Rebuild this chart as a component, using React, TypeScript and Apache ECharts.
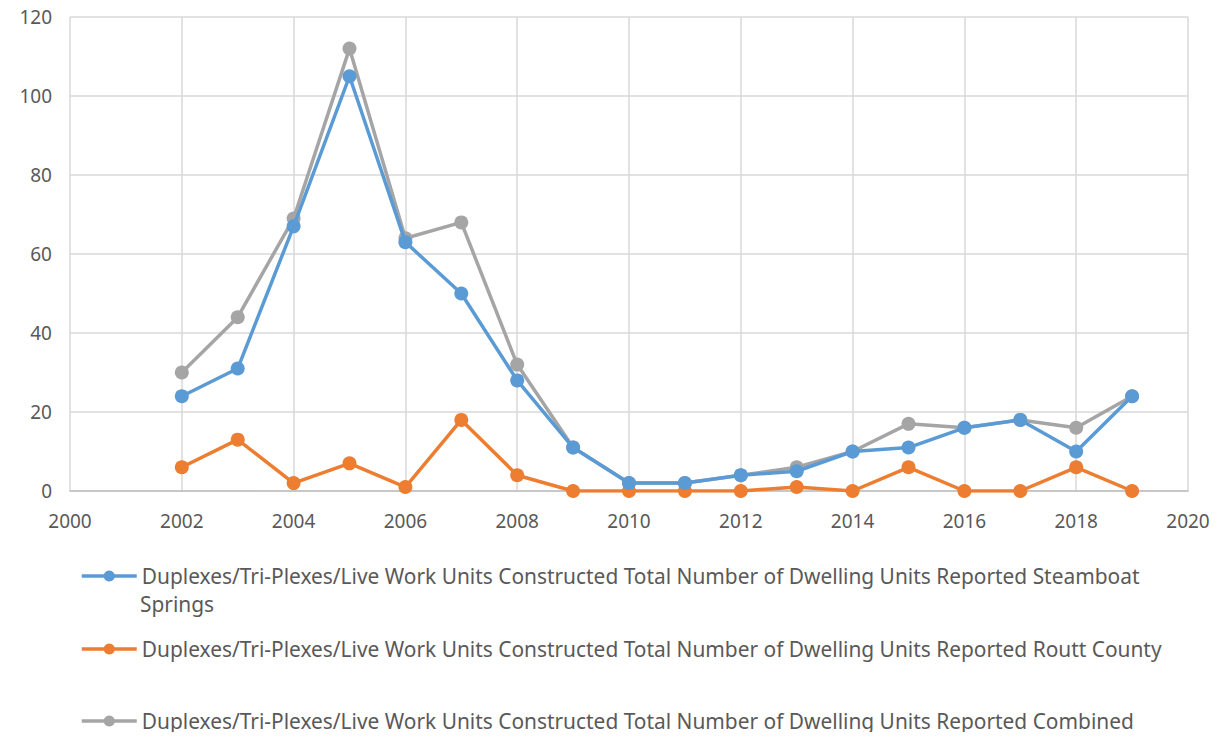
import React, { useEffect, useRef } from "react";
import * as echarts from "echarts";

const years = [2002, 2003, 2004, 2005, 2006, 2007, 2008, 2009, 2010, 2011, 2012, 2013, 2014, 2015, 2016, 2017, 2018, 2019];
const steamboat = [24, 31, 67, 105, 63, 50, 28, 11, 2, 2, 4, 5, 10, 11, 16, 18, 10, 24];
const routt = [6, 13, 2, 7, 1, 18, 4, 0, 0, 0, 0, 1, 0, 6, 0, 0, 6, 0];
const combined = [30, 44, 69, 112, 64, 68, 32, 11, 2, 2, 4, 6, 10, 17, 16, 18, 16, 24];

const names = [
  "Duplexes/Tri-Plexes/Live Work Units Constructed Total Number of Dwelling Units Reported Steamboat Springs",
  "Duplexes/Tri-Plexes/Live Work Units Constructed Total Number of Dwelling Units Reported Routt County",
  "Duplexes/Tri-Plexes/Live Work Units Constructed Total Number of Dwelling Units Reported Combined",
];
const colors = ["#5b9bd5", "#ed7d31", "#a5a5a5"];
const seriesData = [steamboat, routt, combined];

const FONT = "Noto Sans";
const LEGEND_FS = 20.9;

export default function App() {
  const ref = useRef<HTMLDivElement>(null);
  useEffect(() => {
    const chart = echarts.init(ref.current!, null, { renderer: "svg" });
    const legendTops = [565, 638, 710];
    chart.setOption({
      animation: false,
      grid: { left: 70, right: 33, top: 17, bottom: 249, containLabel: false },
      xAxis: {
        type: "value",
        min: 2000,
        max: 2020,
        interval: 2,
        axisLine: { show: true, lineStyle: { color: "#bfbfbf", width: 1.5 } },
        axisTick: { show: false },
        splitLine: { show: true, lineStyle: { color: "#d9d9d9", width: 1.5 } },
        axisLabel: {
          color: "#595959",
          fontSize: 19,
          fontFamily: FONT,
          margin: 20,
          formatter: (v: number) => String(v),
        },
      },
      yAxis: {
        type: "value",
        min: 0,
        max: 120,
        interval: 20,
        axisLine: { show: false },
        axisTick: { show: false },
        splitLine: { show: true, lineStyle: { color: "#d9d9d9", width: 1.5 } },
        axisLabel: { color: "#595959", fontSize: 19, fontFamily: FONT, margin: 18 },
      },
      legend: names.map((n, i) => ({
        data: [n],
        left: 80,
        top: legendTops[i],
        padding: 0,
        itemWidth: 55,
        itemHeight: 14,
        itemGap: 0,
        lineStyle: { width: 3.5 },
        formatter: (name: string) => (i === 0 ? name.replace(" Springs", "") : name),
        textStyle: { color: "#595959", fontSize: LEGEND_FS, fontFamily: FONT, lineHeight: 22 },
      })),
      graphic: [
        {
          type: "text",
          left: 140,
          top: 593,
          style: { text: "Springs", fill: "#595959", fontSize: LEGEND_FS, fontFamily: FONT, lineHeight: 22 },
        },
      ],
      series: names.map((n, i) => ({
        name: n,
        type: "line",
        data: years.map((y, j) => [y, seriesData[i][j]]),
        symbol: "circle",
        symbolSize: 14,
        lineStyle: { color: colors[i], width: 3.5 },
        itemStyle: { color: colors[i] },
        z: i === 2 ? 1 : 3 - i,
      })),
    });
    return () => chart.dispose();
  }, []);
  return <div ref={ref} style={{ width: 1221, height: 740, margin: -8 }} />;
}
